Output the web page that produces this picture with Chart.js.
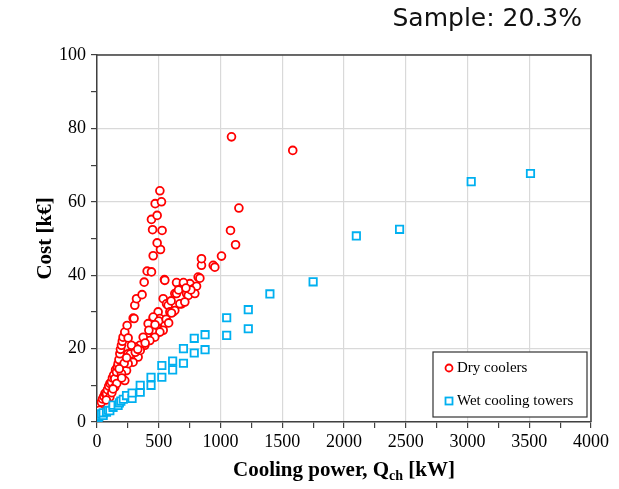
<!DOCTYPE html>
<html>
<head>
<meta charset="utf-8">
<script src="https://cdn.jsdelivr.net/npm/chart.js@4.4.1/dist/chart.umd.min.js"></script>
<style>
  html, body { margin: 0; padding: 0; background: #fff; }
  #wrap { position: relative; width: 619px; height: 489px; }
  #sample { position: absolute; right: 37px; top: 3px; font: 25px "DejaVu Sans", sans-serif; color: #111; white-space: nowrap; }
</style>
</head>
<body>
<div id="wrap">
  <canvas id="chart" width="619" height="489"></canvas>
  <div id="sample">Sample: 20.3%</div>
</div>
<script>
// ---- data (kW, k€) ----------------------------------------------------
const dryPower = [
  5, 15, 25, 36, 45, 55, 65, 77, 85, 95, 105, 117, 125, 135, 144, 150, 158, 165, 171, 178,
  185, 190, 198, 205, 211, 225, 244, 293, 300, 306, 320, 365, 382, 406, 441, 455, 514, 487,
  450, 527, 441, 487, 471, 522, 509, 546,
  549, 644, 698, 752, 779, 806, 819, 833, 846, 846, 941, 954, 1008, 1081, 1122, 1149, 1089, 1585,
  630, 644, 725, 739, 792, 685, 671, 711, 536, 563, 576, 590, 617, 630, 603, 495, 509, 455, 455,
  414, 482, 549, 455, 536, 509, 468, 428, 387, 374, 347, 306, 279, 252, 252, 333, 292, 239, 252,
  198, 225, 144, 104, 75, 120, 160, 200, 220, 270, 310, 350, 390, 420, 500, 560, 600, 660, 700,
  760, 720, 10, 20, 130, 180, 240, 330, 470, 580
];
const dryCost = [
  3.0, 3.8, 4.6, 5.4, 6.3, 7.0, 7.8, 7.7, 8.8, 9.8, 10.5, 10.9, 12.0, 12.8, 11.8, 14.2, 13.6, 15.0, 15.9, 17.0,
  18.6, 19.8, 20.9, 22.0, 23.1, 24.5, 26.3, 28.3, 28.2, 31.8, 33.6, 34.7, 38.1, 41.1, 40.9, 45.3, 47.0, 48.8,
  52.4, 52.2, 55.2, 56.3, 59.5, 60.0, 63.0, 38.8,
  38.6, 38.0, 37.2, 37.7, 36.3, 37.0, 39.5, 39.2, 42.7, 44.5, 42.7, 42.2, 45.2, 52.2, 48.3, 58.3, 77.7, 74.0,
  35.0, 35.0, 35.0, 34.5, 35.0, 32.2, 32.2, 32.7, 33.6, 32.2, 31.8, 30.0, 30.0, 30.4, 29.7, 30.0, 28.2, 28.2, 28.6,
  26.8, 26.3, 26.8, 24.5, 25.0, 24.5, 23.1, 22.2, 20.9, 23.1, 20.9, 20.4, 20.9, 22.9, 18.6, 17.7, 16.3, 14.0, 15.9,
  13.2, 11.3, 9.5, 6.8, 6.0, 8.0, 10.5, 12.0, 16.0, 18.5, 19.0, 19.5, 21.5, 25.0, 27.5, 28.0, 33.0, 36.0, 38.0,
  36.0, 36.5, 2.5, 3.2, 9.0, 14.5, 17.5, 19.8, 26.5, 27.0
];
const wetPower = [
  0, 5, 10, 15, 25, 35, 50, 50, 77, 90, 104, 130, 130, 171, 181, 193, 213, 239, 284, 284,
  350, 350, 437.5, 437.5, 525, 525, 612.5, 612.5, 700, 700, 787.5, 787.5, 875, 875,
  1050, 1050, 1225, 1225, 1400, 1750, 2100, 2450, 3030, 3510
];
const wetCost = [
  0.8, 1.0, 1.3, 1.5, 1.8, 2.2, 1.8, 2.5, 2.7, 3.2, 3.1, 4.0, 4.6, 4.5, 5.2, 5.7, 6.2, 7.2, 6.4, 7.9,
  8.1, 10.0, 10.0, 12.2, 12.2, 15.4, 14.2, 16.6, 16.0, 20.0, 18.8, 22.8, 19.7, 23.8,
  23.6, 28.4, 25.4, 30.6, 34.9, 38.2, 50.7, 52.5, 65.5, 67.7
];
const seriesNames = ['Dry coolers', 'Wet cooling towers'];
const xTitle = ['Cooling power, Q', 'ch', ' [kW]'];
const yTitle = 'Cost [k€]';

const RED = '#ff0000';
const BLUE = '#00b0f0';
const AXIS = '#404040';
const GRID = '#d9d9d9';
const SERIF = "'Liberation Serif', 'Times New Roman', serif";

const toPoints = (xs, ys) => xs.map((x, i) => ({ x, y: ys[i] }));

// 枠線・軸タイトル・凡例を描くプラグイン
const extras = {
  id: 'extras',
  afterDraw(chart) {
    const { ctx, chartArea: a } = chart;
    ctx.save();

    // top / right frame
    ctx.strokeStyle = AXIS;
    ctx.lineWidth = 1.5;
    ctx.beginPath();
    ctx.moveTo(a.left, a.top);
    ctx.lineTo(a.right, a.top);
    ctx.lineTo(a.right, a.bottom);
    ctx.stroke();

    // x title with subscript
    ctx.fillStyle = '#000';
    ctx.textBaseline = 'alphabetic';
    ctx.textAlign = 'left';
    const big = 'bold 21px ' + SERIF, small = 'bold 14px ' + SERIF;
    ctx.font = big;
    const w1 = ctx.measureText(xTitle[0]).width, w3 = ctx.measureText(xTitle[2]).width;
    ctx.font = small;
    const w2 = ctx.measureText(xTitle[1]).width;
    let x = (a.left + a.right) / 2 - (w1 + w2 + w3) / 2;
    const base = 476;
    ctx.font = big;   ctx.fillText(xTitle[0], x, base); x += w1;
    ctx.font = small; ctx.fillText(xTitle[1], x, base + 4); x += w2;
    ctx.font = big;   ctx.fillText(xTitle[2], x, base);

    // y title
    ctx.save();
    ctx.translate(46, (a.top + a.bottom) / 2);
    ctx.rotate(-Math.PI / 2);
    ctx.textAlign = 'center';
    ctx.textBaseline = 'middle';
    ctx.font = big;
    ctx.fillText(yTitle, 0, 0);
    ctx.restore();

    // legend box
    const bx = a.right - 158, by = a.bottom - 70, bw = 154, bh = 65;
    ctx.fillStyle = '#fff';
    ctx.fillRect(bx, by, bw, bh);
    ctx.strokeStyle = '#333';
    ctx.lineWidth = 1.2;
    ctx.strokeRect(bx, by, bw, bh);
    ctx.font = '15px ' + SERIF;
    ctx.textAlign = 'left';
    ctx.textBaseline = 'middle';
    ctx.lineWidth = 1.8;
    // dry
    let ly = by + 16;
    ctx.strokeStyle = RED;
    ctx.beginPath();
    ctx.arc(bx + 16, ly, 3.5, 0, Math.PI * 2);
    ctx.stroke();
    ctx.fillStyle = '#000';
    ctx.fillText(seriesNames[0], bx + 24, ly);
    // wet
    ly = by + 49;
    ctx.strokeStyle = BLUE;
    ctx.strokeRect(bx + 12.5, ly - 3.5, 7, 7);
    ctx.fillText(seriesNames[1], bx + 24, ly);

    ctx.restore();
  }
};

new Chart(document.getElementById('chart'), {
  type: 'scatter',
  data: {
    datasets: [
      {
        label: seriesNames[0],
        data: toPoints(dryPower, dryCost),
        pointStyle: 'circle',
        pointRadius: 3.9,
        pointBorderWidth: 1.8,
        borderColor: RED,
        backgroundColor: '#fff',
        order: 2,
      },
      {
        label: seriesNames[1],
        data: toPoints(wetPower, wetCost),
        pointStyle: 'rect',
        pointRadius: 5.2,
        pointBorderWidth: 1.8,
        borderColor: BLUE,
        backgroundColor: '#fff',
        order: 1,
      },
    ],
  },
  options: {
    responsive: false,
    animation: false,
    layout: { padding: { left: 0, right: 28, top: 55, bottom: 0 } },
    plugins: { legend: { display: false }, tooltip: { enabled: false } },
    scales: {
      x: {
        type: 'linear',
        min: 0,
        max: 4000,
        afterFit: (s) => { s.height = 67; },
        ticks: {
          stepSize: 250,
          autoSkip: false,
          maxRotation: 0,
          color: '#000',
          padding: 3,
          font: { family: SERIF, size: 18 },
          callback: (v) => (v % 500 === 0 ? v : ''),
        },
        grid: {
          color: (c) => (c.tick && c.tick.value % 500 === 0 ? GRID : 'rgba(0,0,0,0)'),
          tickColor: AXIS,
          tickLength: 6,
          lineWidth: 1.2,
        },
        border: { color: AXIS, width: 1.5 },
      },
      y: {
        min: 0,
        max: 100,
        afterFit: (s) => { s.width = 97; },
        ticks: {
          stepSize: 10,
          color: '#000',
          padding: 5,
          font: { family: SERIF, size: 18 },
          callback: (v) => (v % 20 === 0 ? v : ''),
        },
        grid: {
          color: (c) => (c.tick && c.tick.value % 20 === 0 ? GRID : 'rgba(0,0,0,0)'),
          tickColor: AXIS,
          tickLength: 6,
          lineWidth: 1.2,
        },
        border: { color: AXIS, width: 1.5 },
      },
    },
  },
  plugins: [extras],
});
</script>
</body>
</html>
